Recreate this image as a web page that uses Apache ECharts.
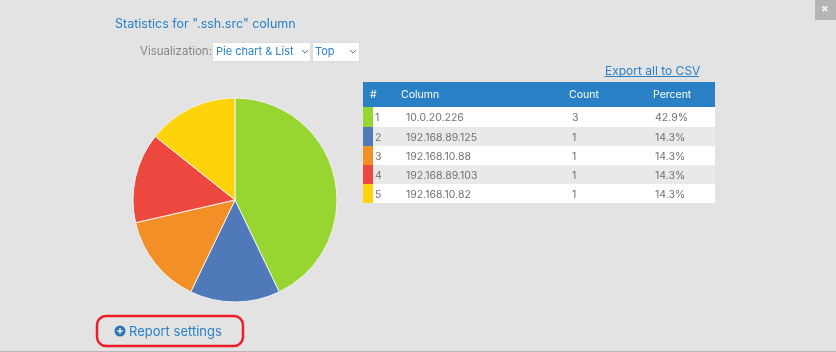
<!DOCTYPE html>
<html>
<head>
<meta charset="utf-8">
<script src="https://cdn.jsdelivr.net/npm/echarts@6/dist/echarts.min.js"></script>
<style>
  html, body {margin: 0; padding: 0; background: #e3e3e3;}
  #chart {width: 836px; height: 352px;}
</style>
</head>
<body>
<div id="chart"></div>
<script>
const ranks = ['1', '2', '3', '4', '5'];
const columns = ['10.0.20.226', '192.168.89.125', '192.168.10.88', '192.168.89.103', '192.168.10.82'];
const counts = [3, 1, 1, 1, 1];
const percents = ['42.9%', '14.3%', '14.3%', '14.3%', '14.3%'];
const colors = ['#97d630', '#4f79b9', '#f28f26', '#ec4840', '#ffd30a'];
const headers = ['#', 'Column', 'Count', 'Percent'];

const font = 'Inter';
const blue = '#2a80c5';
const grey = '#77706c';
const rowTops = [107, 127, 146, 165, 184, 203];

const label = (x, y, text, fill, fontSize) => ({
  type: 'text',
  x, y,
  style: {text, fill, font: `${fontSize || 10.5}px ${font}`, textVerticalAlign: 'middle'},
});
const rect = (x, y, width, height, fill, stroke) => ({
  type: 'rect',
  shape: {x, y, width, height},
  style: {fill, stroke: stroke || null},
});
const chevron = (x, y) => ({
  type: 'polyline',
  shape: {points: [[x, y], [x + 3, y + 3], [x + 6, y]]},
  style: {stroke: '#4d7fae', lineWidth: 1, fill: null},
});

const graphics = [
  label(115, 24, 'Statistics for ".ssh.src" column', blue, 12.5),
  label(140, 52, 'Visualization:', '#8a8583', 11.5),
  rect(212.5, 42.5, 98, 19, '#fff', '#dcdcdc'),
  label(216, 52, 'Pie chart & List', blue, 11),
  chevron(302, 50),
  rect(312.5, 42.5, 47, 19, '#fff', '#dcdcdc'),
  label(315, 52, 'Top', blue, 11),
  chevron(350, 50),
  label(605, 71, 'Export all to CSV', blue, 12),
  {type: 'line', shape: {x1: 604.5, y1: 76.5, x2: 699, y2: 76.5}, style: {stroke: blue, lineWidth: 1}},
  rect(363, 82, 352, 25, '#2a80c5'),
  label(370, 95, headers[0], '#fff'),
  label(401, 95, headers[1], '#fff'),
  label(569, 95, headers[2], '#fff'),
  label(653, 95, headers[3], '#fff'),
  {type: 'circle', shape: {cx: 120, cy: 331, r: 5.5}, style: {fill: '#2a76b5'}},
  {type: 'line', shape: {x1: 117, y1: 331, x2: 123, y2: 331}, style: {stroke: '#e3e3e3', lineWidth: 1.6}},
  {type: 'line', shape: {x1: 120, y1: 328, x2: 120, y2: 334}, style: {stroke: '#e3e3e3', lineWidth: 1.6}},
  label(129, 332, 'Report settings', blue, 13),
  {
    type: 'rect',
    shape: {x: 97, y: 316, width: 146, height: 30, r: 9},
    style: {fill: null, stroke: '#ee1c25', lineWidth: 2.5},
  },
  rect(815, 0, 21, 20, '#b5b5b5'),
  label(821, 9, '✖', '#f0f0f0', 9),
  rect(0, 351, 836, 1, '#b9b9b9'),
];

columns.forEach((name, i) => {
  const top = rowTops[i];
  const h = rowTops[i + 1] - top;
  const mid = top + h / 2 + 1;
  graphics.push(
    rect(363, top, 352, h, i % 2 ? '#e9e9e9' : '#fff'),
    rect(363, top, 10, h, colors[i]),
    label(375, mid, ranks[i], grey),
    label(406, mid, name, grey),
    label(572, mid, String(counts[i]), grey),
    label(655, mid, percents[i], grey)
  );
});

const chart = echarts.init(document.getElementById('chart'));
chart.setOption({
  animation: false,
  backgroundColor: '#e3e3e3',
  color: colors,
  series: [{
    type: 'pie',
    center: [235, 200],
    radius: [0, 102],
    startAngle: 90,
    clockwise: true,
    label: {show: false},
    labelLine: {show: false},
    itemStyle: {borderColor: '#f2f2f2', borderWidth: 1},
    data: columns.map((name, i) => ({name, value: counts[i]})),
  }],
  graphic: {elements: graphics},
});
</script>
</body>
</html>
